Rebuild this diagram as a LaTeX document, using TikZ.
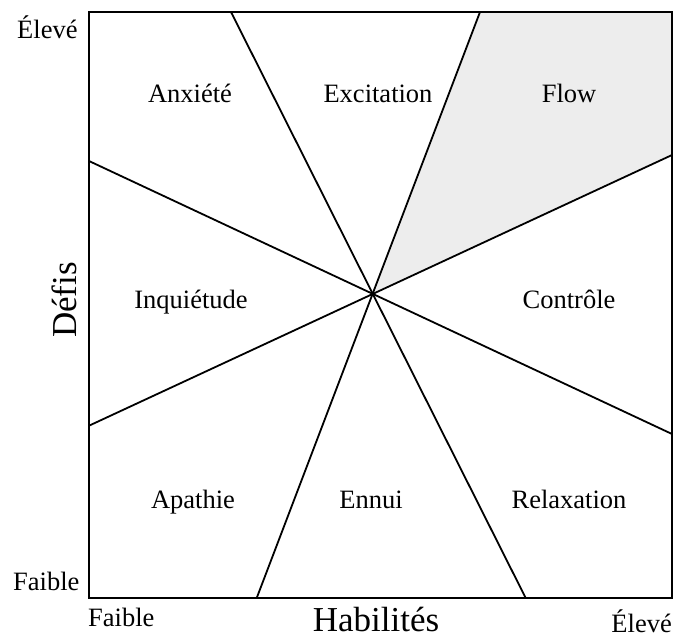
\documentclass[tikz,border=0pt]{standalone}
\usepackage{fontspec}
\setmainfont{Liberation Serif}
\begin{document}
\begin{tikzpicture}[x=1pt,y=-1pt,
  zone/.style={inner sep=0pt,anchor=base,font=\fontsize{26.5}{30}\selectfont},
  tick/.style={inner sep=0pt,font=\fontsize{26.5}{30}\selectfont},
  axis/.style={inner sep=0pt,anchor=base,font=\fontsize{35}{40}\selectfont},
  frame/.style={line width=2.1pt},
  divider/.style={line width=1.8pt},
  flowfill/.style={fill=black!7}]
\useasboundingbox (0,0) rectangle (676,638);

% corners of the chart and the crossing point of the dividers
\coordinate (tl) at (89,12);
\coordinate (tr) at (672,12);
\coordinate (bl) at (89,598);
\coordinate (br) at (672,598);
\coordinate (o) at (373,294);

% ends of the four dividing lines on the frame
\coordinate (a1) at (231,12);   \coordinate (a2) at (525.7,598);
\coordinate (b1) at (480,12);   \coordinate (b2) at (256.7,598);
\coordinate (c1) at (89,161);   \coordinate (c2) at (672,434);
\coordinate (d1) at (89,425.7); \coordinate (d2) at (672,155);

% shaded flow channel
\fill[flowfill] (o) -- (b1) -- (tr) -- (d2) -- cycle;

% dividers
\draw[divider] (a1) -- (a2);
\draw[divider] (b1) -- (b2);
\draw[divider] (c1) -- (c2);
\draw[divider] (d1) -- (d2);

% frame
\draw[frame] (tl) rectangle (br);

% zone names
\node[zone] (anx) at (190,102) {Anxiété};
\node[zone] (exc) at (378,102) {Excitation};
\node[zone] (flw) at (569,102) {Flow};
\node[zone] (inq) at (191,308) {Inquiétude};
\node[zone] (ctl) at (569,308) {Contrôle};
\node[zone] (apa) at (193,508) {Apathie};
\node[zone] (enn) at (371,508) {Ennui};
\node[zone] (rlx) at (569,508) {Relaxation};

% axis ends
\node[tick,anchor=base west] (yhi) at (17,38) {Élevé};
\node[tick,anchor=base west] (ylo) at (13,590) {Faible};
\node[tick,anchor=base west] (xlo) at (88,626) {Faible};
\node[tick,anchor=base east] (xhi) at (672,632) {Élevé};

% axis titles
\node[axis] (xt) at (376,631) {Habilités};
\node[axis,rotate=90] (yt) at (76,300) {Défis};
\end{tikzpicture}
\end{document}
